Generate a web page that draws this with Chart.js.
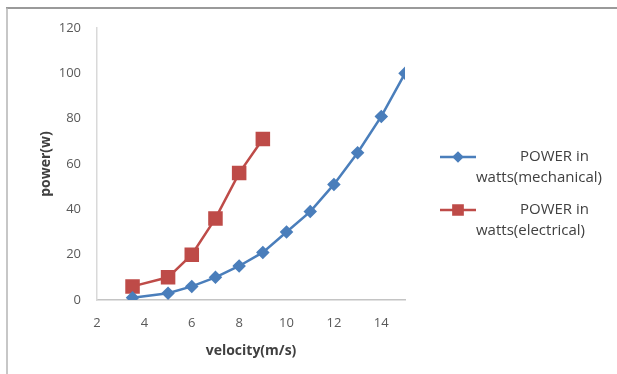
<!DOCTYPE html>
<html>
<head>
<meta charset="utf-8">
<script src="https://cdn.jsdelivr.net/npm/chart.js@4.4.1/dist/chart.umd.min.js"></script>
<style>
  body { margin: 0; background: #fff; }
  #wrap { width: 617px; height: 374px; }
</style>
</head>
<body>
<div id="wrap"><canvas id="powerChart" width="617" height="374"></canvas></div>
<script>
// velocity values (m/s)
const mechVelocity = [3.5, 5, 6, 7, 8, 9, 10, 11, 12, 13, 14, 15];
const mechPower = [1, 3, 6, 10, 15, 21, 30, 39, 51, 65, 81, 100];

const elecVelocity = [3.5, 5, 6, 7, 8, 9];
const elecPower = [6, 10, 20, 36, 56, 71];

const seriesNames = [
  ["POWER in", "watts(mechanical)"],
  ["POWER in", "watts(electrical)"]
];

const yTicks = [0, 20, 40, 60, 80, 100, 120];
const xTicks = [2, 4, 6, 8, 10, 12, 14];

const blue = "#4a7ebb";
const red = "#be4b48";

function toPoints(xs, ys) {
  return xs.map((x, i) => ({ x: x, y: ys[i] }));
}

// frame lines + legend on the right, drawn on the canvas
const framePlugin = {
  id: "frame",
  beforeDraw(chart) {
    const ctx = chart.ctx;
    ctx.save();
    ctx.fillStyle = "#fff";
    ctx.fillRect(0, 0, chart.width, chart.height);
    ctx.strokeStyle = "#9a9a9a";
    ctx.lineWidth = 2;
    ctx.beginPath();
    ctx.moveTo(6, 8);
    ctx.lineTo(617, 8);
    ctx.stroke();
    ctx.strokeStyle = "#b4b4b4";
    ctx.lineWidth = 1.5;
    ctx.beginPath();
    ctx.moveTo(7, 8);
    ctx.lineTo(7, 374);
    ctx.stroke();
    ctx.restore();
  },
  afterDraw(chart) {
    const ctx = chart.ctx;
    const rows = [157, 210];
    ctx.save();
    chart.data.datasets.forEach((ds, i) => {
      const y = rows[i];
      ctx.strokeStyle = ds.borderColor;
      ctx.lineWidth = ds.borderWidth;
      ctx.beginPath();
      ctx.moveTo(440, y);
      ctx.lineTo(476, y);
      ctx.stroke();
      ctx.fillStyle = ds.pointBackgroundColor;
      ctx.strokeStyle = ds.pointBorderColor;
      Chart.helpers.drawPoint(ctx, {
        pointStyle: ds.pointStyle,
        rotation: 0,
        borderWidth: 1,
        radius: i === 0 ? 4 : 6.5
      }, 458, y);
      ctx.font = "15px 'Open Sans'";
      ctx.fillStyle = "#404040";
      ctx.textBaseline = "middle";
      ctx.textAlign = "right";
      ctx.fillText(seriesNames[i][0], 589, y);
      ctx.textAlign = "left";
      ctx.fillText(seriesNames[i][1], 476, y + 21);
    });
    ctx.restore();
  }
};

const data = {
  datasets: [
    {
      label: seriesNames[0].join(" "),
      data: toPoints(mechVelocity, mechPower),
      borderColor: blue,
      backgroundColor: blue,
      pointBackgroundColor: blue,
      pointBorderColor: blue,
      pointStyle: "rectRot",
      pointRadius: 5,
      borderWidth: 2.5,
      showLine: true
    },
    {
      label: seriesNames[1].join(" "),
      data: toPoints(elecVelocity, elecPower),
      borderColor: red,
      backgroundColor: red,
      pointBackgroundColor: red,
      pointBorderColor: red,
      pointStyle: "rect",
      pointRadius: 8.5,
      borderWidth: 2.5,
      showLine: true
    }
  ]
};

const tickFont = { family: "'Open Sans'", size: 13 };
const titleFont = { family: "'Open Sans'", size: 14, weight: "bold" };

const config = {
  type: "scatter",
  data,
  plugins: [framePlugin],
  options: {
    responsive: false,
    animation: false,
    layout: { padding: { left: 36, right: 212, top: 28, bottom: 12 } },
    plugins: {
      legend: { display: false },
      tooltip: { enabled: false }
    },
    scales: {
      x: {
        type: "linear",
        min: 2,
        max: 15,
        grid: { display: false, drawTicks: false },
        border: { display: true, color: "#c4c4c4", width: 1.5 },
        afterBuildTicks: (scale) => {
          scale.ticks = xTicks.map(v => ({ value: v }));
        },
        afterFit: (scale) => { scale.height = 62; },
        ticks: { color: "#595959", font: tickFont, padding: 15 },
        title: {
          display: true,
          text: "velocity(m/s)",
          color: "#404040",
          font: titleFont,
          padding: { top: 4, bottom: 3 }
        }
      },
      y: {
        type: "linear",
        min: 0,
        max: 120,
        grid: { display: false, drawTicks: false },
        border: { display: true, color: "#d9d9d9", width: 1.5 },
        afterBuildTicks: (scale) => {
          scale.ticks = yTicks.map(v => ({ value: v }));
        },
        afterFit: (scale) => { scale.width = 61; },
        ticks: { color: "#595959", font: tickFont, padding: 16 },
        title: {
          display: true,
          text: "power(w)",
          color: "#404040",
          font: titleFont,
          padding: { top: 2, bottom: 4 }
        }
      }
    }
  }
};

const powerChart = new Chart(document.getElementById("powerChart"), config);
</script>
</body>
</html>
